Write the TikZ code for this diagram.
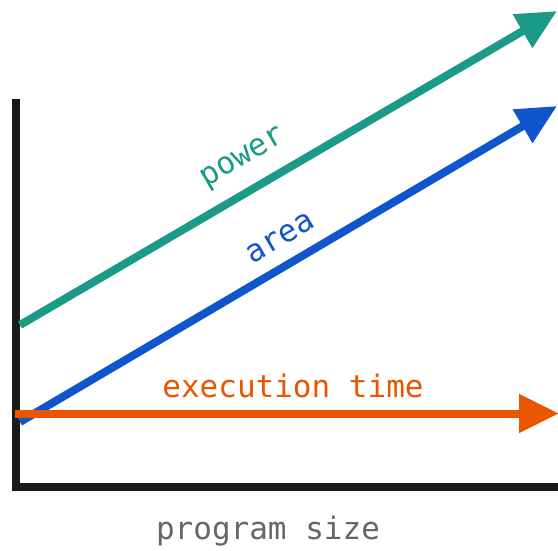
\documentclass[tikz,border=0pt]{standalone}
\usepackage{fontspec}
\setmonofont{DejaVu Sans Mono}
\usetikzlibrary{arrows.meta}
\definecolor{pgreen}{HTML}{1B9A87}
\definecolor{pblue}{HTML}{1155CC}
\definecolor{porange}{HTML}{E85700}
\definecolor{axisblk}{HTML}{1A1A1A}
\definecolor{lblgrey}{HTML}{666666}
\tikzset{
  axis/.style={axisblk,line width=8pt},
  trend/.style={-{Triangle[length=40pt,width=37pt]},line width=8pt},
  lbl/.style={font=\ttfamily\fontsize{31}{33}\selectfont,inner sep=0pt},
}
\begin{document}
\begin{tikzpicture}[x=1pt,y=-1pt]
\useasboundingbox (0,0) rectangle (558,550);
\clip (0,0) rectangle (558,550);
% axes
\coordinate (ytop) at (16,99);
\coordinate (orig) at (16,487);
\coordinate (xend) at (570,487);
\draw[axis] (ytop) -- (orig) -- (xend);
% trends
\coordinate (g0) at (20,325); \coordinate (g1) at (557,11);
\coordinate (b0) at (20,422); \coordinate (b1) at (557,106);
\coordinate (o0) at (15,413.5); \coordinate (o1) at (559,413.5);
\draw[trend,pgreen] (g0) -- (g1);
\draw[trend,pblue] (b0) -- (b1);
\draw[trend,porange] (o0) -- (o1);
% labels
\node[lbl,text=pgreen,rotate=30.3] (power) at (244,159) {power};
\node[lbl,text=pblue,rotate=30.3] (area) at (280,238) {area};
\node[lbl,text=porange] (exec) at (293,386) {execution time};
\node[lbl,text=lblgrey] (size) at (268,531) {program size};
\end{tikzpicture}
\end{document}
